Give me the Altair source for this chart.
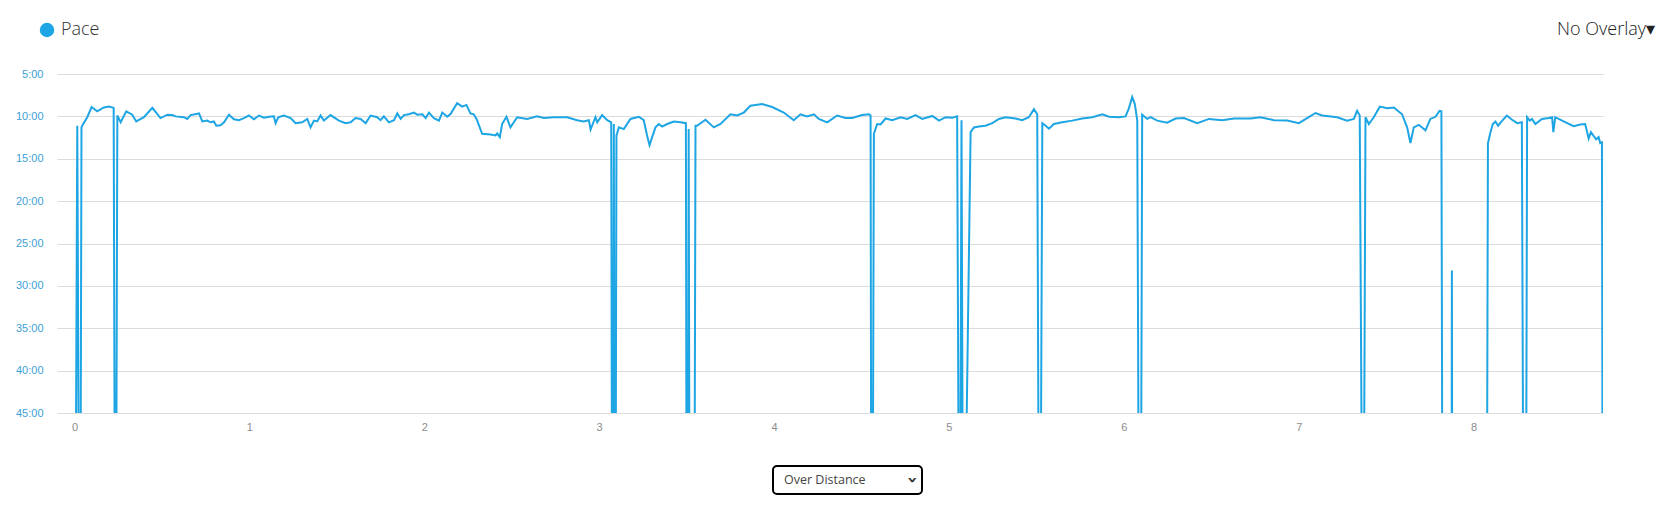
import altair as alt
import pandas as pd

# pace in min/km over distance in km; 60 = dropout below the 45:00 floor
distance = [
    0.006, 0.016, 0.026, 0.034, 0.040, 0.044, 0.073, 0.098, 0.130, 0.168,
    0.197, 0.224, 0.231, 0.238, 0.245, 0.264, 0.296, 0.330, 0.353, 0.397,
    0.445, 0.492, 0.531, 0.559, 0.578, 0.626, 0.645, 0.664, 0.712, 0.731,
    0.759, 0.778, 0.797, 0.811, 0.835, 0.855, 0.883, 0.912, 0.940, 0.969,
    0.997, 1.026, 1.055, 1.083, 1.112, 1.140, 1.150, 1.165, 1.198, 1.236,
    1.264, 1.302, 1.331, 1.350, 1.369, 1.388, 1.407, 1.426, 1.464, 1.512,
    1.550, 1.579, 1.607, 1.636, 1.665, 1.693, 1.731, 1.750, 1.769, 1.798,
    1.827, 1.846, 1.865, 1.884, 1.912, 1.941, 1.960, 1.989, 2.008, 2.027,
    2.055, 2.084, 2.103, 2.132, 2.151, 2.188, 2.217, 2.241, 2.264, 2.283,
    2.299, 2.331, 2.379, 2.407, 2.417, 2.432, 2.445, 2.470, 2.493, 2.531,
    2.588, 2.646, 2.684, 2.741, 2.817, 2.874, 2.912, 2.941, 2.951, 2.979,
    2.989, 3.017, 3.046, 3.069, 3.074, 3.079, 3.084, 3.088, 3.094, 3.099,
    3.113, 3.141, 3.179, 3.227, 3.255, 3.274, 3.288, 3.303, 3.322, 3.341,
    3.360, 3.389, 3.427, 3.465, 3.496, 3.500, 3.508, 3.512, 3.517, 3.545,
    3.551, 3.560, 3.608, 3.656, 3.694, 3.751, 3.789, 3.827, 3.865, 3.932,
    3.989, 4.056, 4.113, 4.151, 4.189, 4.228, 4.256, 4.304, 4.361, 4.409,
    4.447, 4.504, 4.542, 4.552, 4.556, 4.564, 4.571, 4.590, 4.609, 4.638,
    4.676, 4.723, 4.762, 4.809, 4.847, 4.905, 4.943, 4.981, 5.019, 5.047,
    5.057, 5.064, 5.072, 5.080, 5.092, 5.124, 5.143, 5.171, 5.209, 5.248,
    5.286, 5.324, 5.381, 5.419, 5.457, 5.486, 5.505, 5.514, 5.524, 5.534,
    5.553, 5.572, 5.600, 5.648, 5.705, 5.762, 5.820, 5.877, 5.915, 5.972,
    6.010, 6.029, 6.048, 6.063, 6.077, 6.086, 6.098, 6.105, 6.134, 6.153,
    6.191, 6.248, 6.296, 6.344, 6.420, 6.487, 6.563, 6.630, 6.696, 6.724,
    6.781, 6.858, 6.934, 7.001, 7.048, 7.096, 7.134, 7.220, 7.277, 7.315,
    7.334, 7.349, 7.363, 7.372, 7.382, 7.401, 7.429, 7.464, 7.506, 7.544,
    7.591, 7.620, 7.639, 7.658, 7.687, 7.725, 7.753, 7.782, 7.805, 7.816,
    7.822, 7.874, 7.876, 7.878, 8.076, 8.082, 8.095, 8.110, 8.125, 8.140,
    8.160, 8.190, 8.220, 8.250, 8.276, 8.285, 8.300, 8.306, 8.321, 8.334,
    8.353, 8.391, 8.430, 8.449, 8.456, 8.467, 8.515, 8.572, 8.610, 8.638,
    8.658, 8.671, 8.686, 8.701, 8.715, 8.724, 8.734, 8.738,
]
pace = [
    60, 11.1, 60, 60, 11.3, 11.1, 10.1, 8.9, 9.4, 8.95,
    8.85, 9.0, 60, 60, 9.9, 10.7, 9.4, 9.8, 10.6, 10.1,
    9.0, 10.2, 9.8, 9.85, 10.0, 10.1, 10.3, 9.85, 9.65, 10.6,
    10.5, 10.7, 10.6, 11.1, 11.05, 10.7, 9.8, 10.35, 10.45, 10.2,
    9.9, 10.35, 9.9, 10.15, 10.05, 10.0, 10.8, 10.1, 9.9, 10.2,
    10.8, 10.7, 10.3, 11.3, 10.5, 10.6, 9.9, 10.5, 9.85, 10.5,
    10.8, 10.7, 10.2, 10.3, 10.8, 9.9, 10.1, 10.45, 10.0, 10.7,
    10.45, 9.65, 10.3, 9.85, 9.75, 9.55, 9.8, 9.75, 10.2, 9.55,
    10.2, 10.5, 9.55, 10.05, 9.7, 8.45, 8.85, 8.65, 9.65, 9.75,
    10.3, 12.05, 12.15, 12.25, 12.0, 12.45, 10.9, 10.05, 11.3, 10.1,
    10.3, 10.0, 10.2, 10.1, 10.1, 10.45, 10.6, 10.45, 11.55, 10.1,
    10.7, 9.85, 10.45, 10.7, 60, 60, 10.9, 60, 60, 12.25,
    11.3, 11.5, 10.3, 10.05, 10.45, 12.25, 13.4, 12.45, 11.3, 10.9,
    11.2, 10.9, 10.6, 10.7, 10.8, 60, 60, 11.5, 60, 60,
    11.1, 11.1, 10.4, 11.3, 10.9, 9.75, 9.9, 9.55, 8.75, 8.55,
    8.9, 9.55, 10.45, 9.75, 10.0, 9.75, 10.3, 10.7, 9.9, 10.2,
    10.2, 9.85, 9.75, 9.9, 60, 60, 12.05, 10.9, 10.95, 10.25,
    10.45, 10.1, 10.3, 9.85, 10.3, 9.95, 10.5, 10.1, 10.15, 10.0,
    60, 60, 10.45, 60, 60, 11.85, 11.3, 11.2, 11.1, 10.8,
    10.3, 10.1, 10.25, 10.45, 10.1, 9.15, 9.75, 60, 60, 10.8,
    11.1, 11.45, 10.9, 10.7, 10.5, 10.25, 10.1, 9.75, 10.05, 10.1,
    10.0, 9.05, 7.7, 8.55, 10.5, 60, 60, 9.8, 10.3, 10.1,
    10.5, 10.75, 10.25, 10.2, 10.8, 10.3, 10.45, 10.25, 10.25, 10.25,
    10.1, 10.45, 10.5, 10.8, 10.2, 9.6, 9.9, 10.1, 10.5, 10.3,
    9.35, 9.9, 60, 60, 10.1, 10.9, 10.1, 8.85, 9.05, 8.95,
    9.75, 11.3, 13.15, 11.3, 11.0, 11.65, 10.3, 10.05, 9.35, 9.4,
    60, 60, 28.2, 60, 60, 13.2, 12.0, 10.9, 10.6, 11.1,
    10.6, 9.9, 10.4, 10.8, 10.7, 60, 60, 10.1, 10.5, 10.3,
    10.9, 10.3, 10.2, 10.1, 11.85, 10.1, 10.6, 11.15, 10.95, 10.9,
    12.6, 11.85, 12.3, 12.7, 12.45, 13.15, 13.05, 60,
]

series_name = "Pace"
x_ticks = [0, 1, 2, 3, 4, 5, 6, 7, 8]
y_ticks = [5, 10, 15, 20, 25, 30, 35, 40, 45]
overlay_label = "No Overlay\u25be"
dropdown_label = "Over Distance"

BLUE = "#1ea5e3"
W, H = 1546, 339

df = pd.DataFrame({"distance": distance, "pace": pace})
df["series"] = series_name
df["i"] = range(len(df))

line = alt.Chart(df).mark_line(clip=True, strokeWidth=2).encode(
    x=alt.X("distance:Q",
            scale=alt.Scale(domain=[-0.1, 8.74], nice=False, zero=False),
            axis=alt.Axis(values=x_ticks, title=None, grid=False, domain=False,
                          ticks=False, tickSize=0, labelPadding=8,
                          labelColor="#8c8c8c", labelFontSize=11,
                          labelFont="Liberation Sans")),
    y=alt.Y("pace:Q",
            scale=alt.Scale(domain=[5, 45], reverse=True, nice=False, zero=False),
            axis=alt.Axis(values=y_ticks, title=None, domain=False, ticks=False,
                          tickSize=0, labelPadding=14, gridColor="#dcdcdc",
                          labelColor="#3d9fd6", labelFontSize=11,
                          labelFont="Liberation Sans",
                          labelExpr="datum.value + ':00'")),
    color=alt.Color("series:N", scale=alt.Scale(range=[BLUE]),
                    legend=alt.Legend(orient="none", legendX=-19, legendY=-53,
                                      title=None, padding=0,
                                      symbolType="circle", symbolSize=210,
                                      symbolFillColor=BLUE, symbolStrokeColor=BLUE,
                                      symbolStrokeWidth=0, labelOffset=5,
                                      labelFontSize=18, labelFont="Open Sans",
                                      labelFontWeight=300, labelColor="#333333")),
    order="i:Q",
)

overlay = alt.Chart(pd.DataFrame({"t": [overlay_label]})).mark_text(
    align="right", baseline="middle", fontSize=18, font="Open Sans",
    fontWeight=300, color="#222222"
).encode(text="t:N", x=alt.value(W + 52), y=alt.value(-44))

box = alt.Chart(pd.DataFrame({"t": [dropdown_label]})).mark_rect(
    fill="white", stroke="black", strokeWidth=2, cornerRadius=4
).encode(x=alt.value(716), x2=alt.value(865), y=alt.value(392), y2=alt.value(420))

box_text = alt.Chart(pd.DataFrame({"t": [dropdown_label]})).mark_text(
    align="left", baseline="middle", fontSize=12.5, font="Open Sans", color="#444444"
).encode(text="t:N", x=alt.value(727), y=alt.value(406))

chevron = alt.Chart(pd.DataFrame({"t": ["\u203a"]})).mark_text(
    align="center", baseline="middle", fontSize=17, font="DejaVu Sans",
    fontWeight="bold", angle=90, color="#333333"
).encode(text="t:N", x=alt.value(855), y=alt.value(406))

chart = alt.layer(line, overlay, box, box_text, chevron).properties(
    width=W, height=H,
    padding={"left": 49, "top": 66, "right": 53, "bottom": 86},
    autosize="none",
).configure_view(stroke=None)

chart.save("out.html", embed_options={"renderer": "svg", "actions": False})
